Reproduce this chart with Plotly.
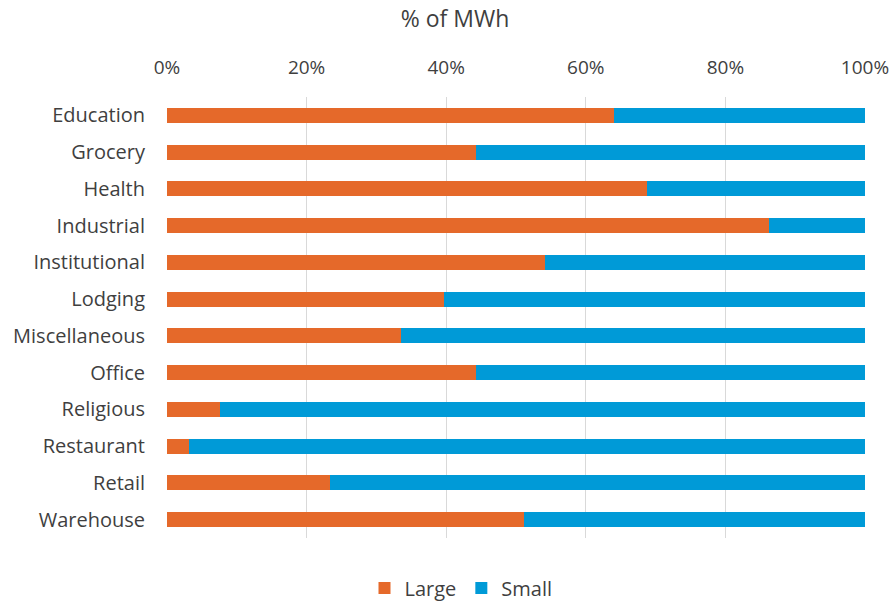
import plotly.graph_objects as go

categories = ["Education", "Grocery", "Health", "Industrial", "Institutional", "Lodging",
              "Miscellaneous", "Office", "Religious", "Restaurant", "Retail", "Warehouse"]
large = [64.1, 44.3, 68.7, 86.2, 54.2, 39.7, 33.5, 44.2, 7.6, 3.2, 23.3, 51.2]
small = [round(100 - v, 1) for v in large]
tick_vals = [0, 20, 40, 60, 80, 100]
tick_text = ["0%", "20%", "40%", "60%", "80%", "100%"]

FONT = "Open Sans, sans-serif"
TEXT = "#3F3F3F"
W, H = 895, 601

fig = go.Figure()
fig.add_trace(go.Bar(y=categories, x=large, name="Large", orientation="h",
                     marker=dict(color="#E5692A", line=dict(width=0)), width=0.41))
fig.add_trace(go.Bar(y=categories, x=small, name="Small", orientation="h",
                     marker=dict(color="#009AD7", line=dict(width=0)), width=0.41))

fig.update_layout(
    barmode="stack",
    width=W, height=H,
    margin=dict(l=167, r=30, t=97, b=63, autoexpand=False),
    paper_bgcolor="white", plot_bgcolor="white",
    font=dict(family=FONT, size=20, color=TEXT),
    title=dict(text="% of MWh", x=455 / W, xref="container", xanchor="center",
               y=1 - 19 / H, yref="container", yanchor="middle",
               font=dict(family=FONT, size=23, color=TEXT)),
    legend=dict(orientation="h", x=461 / W, xanchor="center", xref="container",
                y=1 - 588 / H, yref="container", yanchor="middle",
                font=dict(family=FONT, size=20, color=TEXT),
                traceorder="normal"),
)
fig.update_xaxes(side="top", range=[0, 100], tickvals=tick_vals, ticktext=tick_text,
                 showgrid=True, gridcolor="#D9D9D9", gridwidth=1, zeroline=False,
                 showline=False, ticks="", ticklabelstandoff=18, automargin=False,
                 tickfont=dict(family=FONT, size=19, color=TEXT), fixedrange=True)
fig.update_yaxes(autorange="reversed", categoryorder="array", categoryarray=categories,
                 showgrid=False, showline=False, ticks="", ticklabelstandoff=21,
                 automargin=False,
                 tickfont=dict(family=FONT, size=20, color=TEXT), fixedrange=True)

fig.write_html("out.html")
